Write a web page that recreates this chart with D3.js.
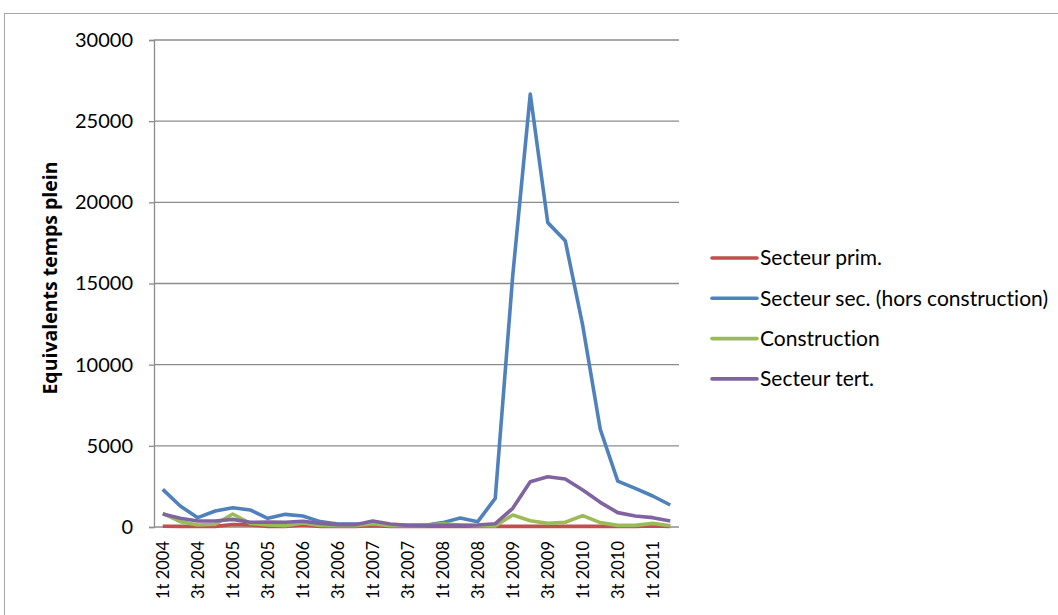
<!DOCTYPE html>
<html>
<head>
<meta charset="utf-8">
<script src="https://cdn.jsdelivr.net/npm/d3@7"></script>
<style>
  body { margin: 0; background: #fff; }
  text { font-family: Lato, "Open Sans", sans-serif; fill: #000; font-variant-ligatures: none; }
</style>
</head>
<body>
<div id="chart"></div>
<script>
"use strict";
// quarterly full-time equivalents, 1t 2004 - 2t 2011

var quarters = ["1t 2004","2t 2004","3t 2004","4t 2004",
                "1t 2005","2t 2005","3t 2005","4t 2005",
                "1t 2006","2t 2006","3t 2006","4t 2006",
                "1t 2007","2t 2007","3t 2007","4t 2007",
                "1t 2008","2t 2008","3t 2008","4t 2008",
                "1t 2009","2t 2009","3t 2009","4t 2009",
                "1t 2010","2t 2010","3t 2010","4t 2010",
                "1t 2011","2t 2011"];

var seriesNames = ["Secteur prim.", "Secteur sec. (hors construction)", "Construction", "Secteur tert."];
var seriesColors = ["#C0504D", "#4F81BD", "#9BBB59", "#8064A2"];

var primaire = [50, 40, 30, 40, 150, 130, 40, 40, 130, 40, 30, 30, 80, 30, 30,
                30, 30, 30, 30, 40, 40, 40, 40, 40, 40, 40, 30, 30, 60, 40];
var secondaire = [2320, 1290, 575, 985, 1190, 1050, 535, 780, 680, 330, 185, 185, 200, 130, 100,
                  110, 270, 555, 330, 1765, 15500, 26670, 18750, 17640, 12400, 6020, 2830, 2380, 1910, 1355];
var construction = [840, 330, 125, 165, 800, 225, 125, 85, 250, 100, 80, 80, 200, 80, 80,
                    100, 200, 120, 80, 60, 740, 390, 223, 290, 700, 270, 100, 100, 225, 80];
var tertiaire = [800, 535, 370, 370, 470, 290, 310, 290, 351, 225, 145, 145, 370, 185, 100,
                 100, 100, 100, 120, 205, 1150, 2790, 3100, 2955, 2280, 1520, 885, 680, 575, 370];

var yTicks = [0, 5000, 10000, 15000, 20000, 25000, 30000];

var allSeries = [primaire, secondaire, construction, tertiaire];

var W = 1058, H = 615;
var plot = {left: 154, right: 679, top: 40, bottom: 527};

var svg = d3.select("#chart").append("svg")
    .attr("width", W)
    .attr("height", H);

// outer chart frame
svg.append("rect")
    .attr("x", 4.5).attr("y", 13.5)
    .attr("width", W + 10).attr("height", H + 10)
    .attr("fill", "none")
    .attr("stroke", "#a6a6a6")
    .attr("stroke-width", 1);

var x = d3.scalePoint()
    .domain(quarters)
    .range([plot.left, plot.right])
    .padding(0.5);

var y = d3.scaleLinear()
    .domain([0, 30000])
    .range([plot.bottom, plot.top]);

// gridlines
svg.append("g")
    .selectAll("line")
    .data(yTicks.slice(1))
    .join("line")
    .attr("x1", plot.left).attr("x2", plot.right)
    .attr("y1", d => y(d)).attr("y2", d => y(d))
    .attr("stroke", "#8c8c8c")
    .attr("stroke-width", 1.3);

// y axis
var yAxis = svg.append("g")
    .attr("transform", "translate(" + plot.left + ",0)")
    .call(d3.axisLeft(y).tickValues(yTicks).tickSize(5).tickPadding(16).tickFormat(d3.format("d")));
yAxis.select(".domain").attr("stroke", "#8c8c8c").attr("stroke-width", 1.3);
yAxis.selectAll(".tick line").attr("stroke", "#8c8c8c").attr("stroke-width", 1.3);
yAxis.selectAll(".tick text").attr("font-size", 20).attr("fill", "#000");

// x axis line
svg.append("line")
    .attr("x1", plot.left).attr("x2", plot.right)
    .attr("y1", plot.bottom).attr("y2", plot.bottom)
    .attr("stroke", "#8c8c8c")
    .attr("stroke-width", 1.3);

// x labels, every other quarter
svg.append("g")
    .selectAll("text")
    .data(quarters.filter((d, i) => i % 2 === 0))
    .join("text")
    .attr("transform", d => "translate(" + x(d) + "," + (plot.bottom + 14) + ") rotate(-90)")
    .attr("text-anchor", "end")
    .attr("dy", "0.35em")
    .attr("font-size", 16.5)
    .text(d => d);

// y title (style, so it wins over the css rule)
svg.append("text")
    .attr("transform", "translate(50," + 278 + ") rotate(-90)")
    .attr("text-anchor", "middle")
    .attr("dy", "0.35em")
    .style("font-family", "'Open Sans', sans-serif")
    .style("font-size", "19.5px")
    .style("font-weight", "bold")
    .text("Equivalents temps plein");

// lines
var line = d3.line()
    .x((d, i) => x(quarters[i]))
    .y(d => y(d));

svg.append("g")
    .selectAll("path")
    .data(allSeries)
    .join("path")
    .attr("d", d => line(d))
    .attr("fill", "none")
    .attr("stroke", (d, i) => seriesColors[i])
    .attr("stroke-width", 3.6)
    .attr("stroke-linejoin", "round");

// legend
var legend = svg.append("g")
    .selectAll("g")
    .data(seriesNames)
    .join("g")
    .attr("transform", (d, i) => "translate(712," + (258 + i * 40.3) + ")");

legend.append("line")
    .attr("x1", 0).attr("x2", 45)
    .attr("stroke", (d, i) => seriesColors[i])
    .attr("stroke-width", 3.6)
    .attr("stroke-linecap", "round");

legend.append("text")
    .attr("x", 48)
    .attr("dy", "0.35em")
    .attr("font-size", 21)
    .text(d => d);
</script>
</body>
</html>
